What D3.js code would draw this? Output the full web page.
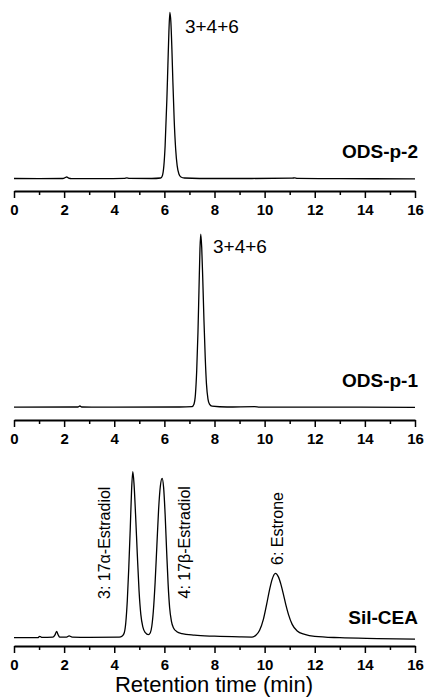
<!DOCTYPE html>
<html>
<head>
<meta charset="utf-8">
<script src="https://cdn.jsdelivr.net/npm/d3@7"></script>
<style>
	body{ margin:0; background:#fff; }
	svg{ display:block; font-family:"Liberation Sans", Arial, sans-serif; }
	.tick line, .domain{ stroke:#000; }
</style>
</head>
<body>
<svg id="chart" width="426" height="700"></svg>
<script>
// retention time (min) / detector signal (a.u.)
let odsP2Time = [0, 1.0, 1.95, 2.05, 2.1, 2.18, 2.3, 3.5, 4.4, 4.5, 4.6, 5.5, 5.85, 5.92, 5.98, 6.03, 6.1, 6.14, 6.18, 6.22, 6.26, 6.3, 6.34, 6.39, 6.45, 6.51, 6.58, 6.66, 6.8, 8, 9.5, 11.1, 11.2, 11.3, 13, 16];
let odsP2Signal = [0.3, 0.2, 0.3, 0.9, 1.2, 0.5, 0.2, 0.2, 0.4, 0.7, 0.4, 0.3, 0.6, 2, 8, 20, 48, 68, 88, 100, 94, 78, 58, 36, 18, 8, 3, 1.2, 0.6, 0.3, 0.3, 0.5, 0.7, 0.4, 0.2, 0.1];

let odsP1Time = [0, 2.55, 2.63, 2.7, 4, 6.6, 7.1, 7.18, 7.24, 7.29, 7.34, 7.38, 7.42, 7.45, 7.49, 7.53, 7.58, 7.63, 7.68, 7.74, 7.8, 7.9, 8.5, 9.6, 9.8, 12, 16];
let odsP1Signal = [0.2, 0.3, 0.9, 0.3, 0.2, 0.3, 0.5, 2, 8, 22, 45, 70, 95, 104, 96, 78, 52, 30, 14, 5, 2, 0.8, 0.3, 0.5, 0.2, 0.2, 0.1];

let silCeaTime = [0, 0.95, 1.03, 1.1, 1.55, 1.63, 1.7, 1.76, 1.83, 2.1, 2.2, 2.32, 3, 4.2, 4.32, 4.4, 4.46, 4.52, 4.58, 4.64, 4.69, 4.74, 4.79, 4.85, 4.92, 4.99, 5.06, 5.14, 5.24, 5.36, 5.44, 5.5, 5.56, 5.63, 5.7, 5.77, 5.84, 5.91, 5.97, 6.03, 6.09, 6.15, 6.21, 6.28, 6.36, 6.5, 6.7, 7.2, 8, 9, 9.5, 9.65, 9.8, 9.95, 10.08, 10.2, 10.3, 10.43, 10.55, 10.65, 10.75, 10.85, 10.95, 11.1, 11.3, 11.6, 12, 13, 14.5, 16];
let silCeaSignal = [0, 0, 0.8, 0.2, 0.3, 1.5, 3.8, 1.8, 0.3, 0.4, 1.1, 0.4, 0.2, 0.3, 1, 3, 9, 22, 42, 66, 88, 99.6, 92, 74, 50, 28, 14, 6.5, 3, 1.8, 3, 7, 16, 33, 55, 77, 91, 95.6, 90, 74, 52, 32, 18, 10, 6, 3.6, 2.5, 1.5, 0.9, 0.5, 0.4, 1.5, 4.5, 11, 20, 29, 35, 38.6, 36.5, 32, 26, 19.5, 14, 8, 4, 2, 0.8, 0, -0.5, -0.9];

let panelNames = ["ODS-p-2", "ODS-p-1", "Sil-CEA"];
let majorTicks = [0, 2, 4, 6, 8, 10, 12, 14, 16];
let minorTicks = [1, 3, 5, 7, 9, 11, 13, 15];
let xTitle = "Retention time (min)";

// peak labels: text, time (min)
let peakLabelsTop = ["3+4+6"];
let peakLabels = ["3: 17\u03B1-Estradiol", "4: 17\u03B2-Estradiol", "6: Estrone"];
let peakLabelTimes = [3.84, 7.03, 10.74];

let svg = d3.select("#chart");
let x = d3.scaleLinear().domain([0, 16]).range([14, 415]);

let panels = [
	{name: panelNames[0], t: odsP2Time, s: odsP2Signal, axisY: 191, base: 179},
	{name: panelNames[1], t: odsP1Time, s: odsP1Signal, axisY: 420, base: 407.5},
	{name: panelNames[2], t: silCeaTime, s: silCeaSignal, axisY: 646, base: 637.7}
];

panels.forEach((p, k) => {
	let y = d3.scaleLinear().domain([0, 100]).range([p.base, p.base - 166.7]);
	let pts = p.t.map((t, i) => [t, p.s[i]]);
	let line = d3.line().x(d => x(d[0])).y(d => y(d[1])).curve(d3.curveMonotoneX);

	svg.append("path")
		.datum(pts)
		.attr("d", line)
		.attr("fill", "none")
		.attr("stroke", "#000")
		.attr("stroke-width", 1.3);

	let g = svg.append("g").attr("transform", "translate(0," + p.axisY + ")");
	g.call(d3.axisBottom(x).tickValues(minorTicks).tickSize(4).tickFormat(""))
		.select(".domain").remove();
	g.selectAll(".tick line").attr("stroke-width", 1.5);

	let ga = svg.append("g").attr("transform", "translate(0," + p.axisY + ")");
	ga.call(d3.axisBottom(x).tickValues(majorTicks).tickSize(7).tickSizeOuter(0).tickPadding(6).tickFormat(d3.format("d")));
	ga.attr("font-family", null).attr("font-size", null);
	ga.select(".domain").attr("stroke-width", 2);
	ga.selectAll(".tick line").attr("stroke-width", 1.5);
	ga.selectAll(".tick text")
		.attr("font-size", 15)
		.attr("font-weight", "bold")
		.attr("fill", "#000");

	svg.append("text")
		.attr("x", 418)
		.attr("y", [158.3, 386.7, 624][k])
		.attr("text-anchor", "end")
		.attr("font-weight", "bold")
		.attr("font-size", 19)
		.text(p.name);
});

// "3+4+6" above the single peaks
[[6.82, 33.3], [7.94, 253.3]].forEach(d => {
	svg.append("text")
		.attr("x", x(d[0]))
		.attr("y", d[1])
		.attr("font-size", 19)
		.text(peakLabelsTop[0]);
});

// rotated labels on Sil-CEA
let labelBottoms = [599, 598.5, 565];
peakLabels.forEach((txt, i) => {
	svg.append("text")
		.attr("transform", "translate(" + x(peakLabelTimes[i]) + "," + labelBottoms[i] + ") rotate(-90)")
		.attr("font-size", 16)
		.text(txt);
});

svg.append("text")
	.attr("x", 214)
	.attr("y", 692)
	.attr("text-anchor", "middle")
	.attr("font-size", 22)
	.text(xTitle);
</script>
</body>
</html>
